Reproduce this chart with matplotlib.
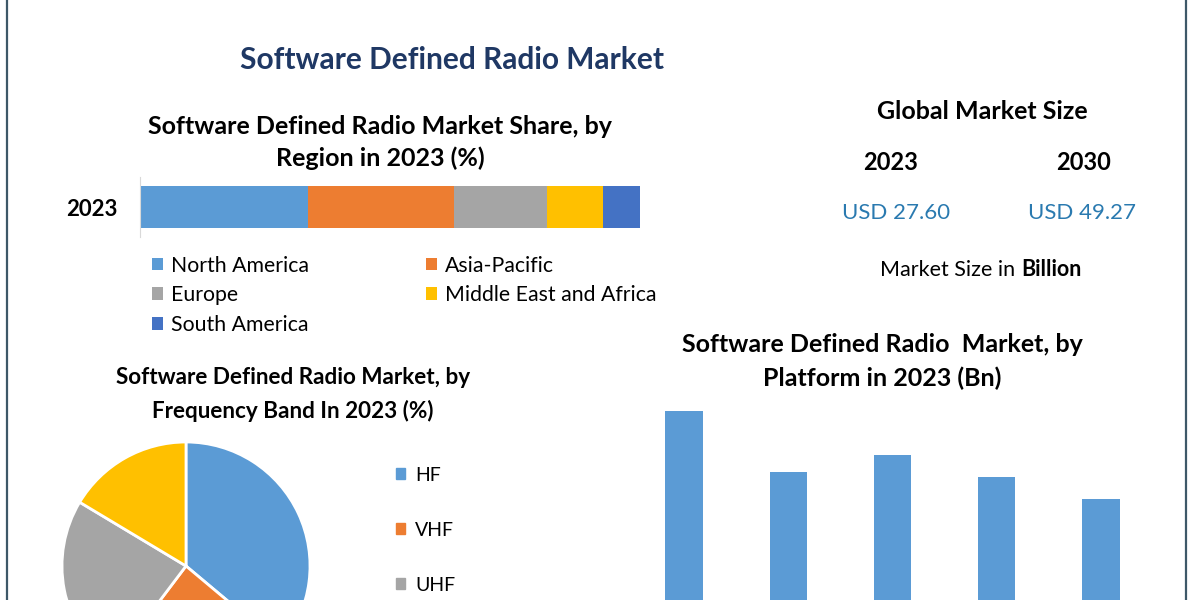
import matplotlib.pyplot as plt
from matplotlib.lines import Line2D
from matplotlib.patches import Patch

plt.rcParams['font.family'] = ['Lato', 'DejaVu Sans']

# region share 2023 (%)
regions = ['North America', 'Asia-Pacific', 'Europe', 'Middle East and Africa', 'South America']
region_share = [33.6, 29.2, 18.6, 11.2, 7.4]
region_colors = ['#5B9BD5', '#ED7D31', '#A5A5A5', '#FFC000', '#4472C4']

# frequency band 2023 (%)
bands = ['HF', 'VHF', 'UHF', 'Others']
band_share = [36.1, 24.2, 23.3, 16.4]
band_colors = ['#5B9BD5', '#ED7D31', '#A5A5A5', '#FFC000']

# platform 2023 (Bn)
platforms = ['Land', 'Airborne', 'Naval', 'Space', 'Others']
platform_vals = [6.73, 5.31, 5.70, 5.19, 4.68]

W, H = 1200, 600
fig = plt.figure(figsize=(12, 6), dpi=100)
fig.patch.set_facecolor('white')


def px(x, y):
    return x / W, 1 - y / H


def box(x0, y0, x1, y1):
    return [x0 / W, 1 - y1 / H, (x1 - x0) / W, (y1 - y0) / H]


def txt(x, y, s, **kw):
    kw.setdefault('ha', 'center')
    kw.setdefault('va', 'center')
    fig.text(*px(x, y), s, **kw)


# frame lines
for xx in (7, 1186):
    fig.add_artist(Line2D([xx / W, xx / W], [0, 1], color='#3E5868', lw=1.6))

txt(452, 60, 'Software Defined Radio Market', fontsize=21.5, fontweight='bold', color='#1F3864')

# stacked region bar
txt(380, 126, 'Software Defined Radio Market Share, by', fontsize=18, fontweight='bold')
txt(380, 158, 'Region in 2023 (%)', fontsize=18, fontweight='bold')
ax1 = fig.add_axes(box(140, 177, 640, 237))
bars = []
left = 0
for name, val, col in zip(regions, region_share, region_colors):
    bars.append(ax1.barh(0, val, left=left, height=0.7, color=col, label=name))
    left += val
ax1.set_xlim(0, sum(region_share))
ax1.set_ylim(-0.5, 0.5)
ax1.set_yticks([0])
ax1.set_yticklabels(['2023'], fontsize=16, fontweight='bold')
ax1.tick_params(axis='y', length=0, pad=16)
ax1.set_xticks([])
for sp in ['top', 'right', 'bottom']:
    ax1.spines[sp].set_visible(False)
ax1.spines['left'].set_color('#D9D9D9')
order = [0, 2, 4, 1, 3]
fig.legend([bars[i] for i in order], [regions[i] for i in order],
           loc='upper left', bbox_to_anchor=px(143, 247), ncol=2, frameon=False,
           fontsize=15.3, handlelength=0.55, handleheight=0.55, handletextpad=0.35,
           columnspacing=5.5, labelspacing=0.45, borderaxespad=0)

# global market size
txt(982, 111, 'Global Market Size', fontsize=18, fontweight='bold')
txt(891, 162, '2023', fontsize=17, fontweight='bold')
txt(1084, 162, '2030', fontsize=17, fontweight='bold')
txt(896, 213, 'USD 27.60', fontsize=16, color='#2A7AB0')
txt(1082, 213, 'USD 49.27', fontsize=16, color='#2A7AB0')
txt(1021, 270, 'Market Size in ', fontsize=15.5, ha='right')
txt(1021, 270, 'Billion', fontsize=15.5, ha='left', fontweight='bold')

# pie by frequency band
txt(293, 378, 'Software Defined Radio Market, by', fontsize=16.2, fontweight='bold')
txt(293, 411, 'Frequency Band In 2023 (%)', fontsize=16.2, fontweight='bold')
ax2 = fig.add_axes(box(62, 442, 310, 690))
ax2.pie(band_share, colors=band_colors, startangle=90, counterclock=False,
        wedgeprops=dict(edgecolor='white', linewidth=2))
ax2.set_xlim(-1, 1)
ax2.set_ylim(-1, 1)
ax2.set_aspect('equal')
handles = [Patch(color=c) for c in band_colors[:3]]
fig.legend(handles, bands[:3], loc='upper left', bbox_to_anchor=px(388, 459), frameon=False,
           fontsize=14, handlelength=0.5, handleheight=0.5, handletextpad=0.5,
           labelspacing=1.95, borderaxespad=0)

# platform bars
txt(882, 345, 'Software Defined Radio  Market, by', fontsize=18, fontweight='bold')
txt(882, 378, 'Platform in 2023 (Bn)', fontsize=18, fontweight='bold')
ax3 = fig.add_axes(box(632, 400, 1153, 700))
ax3.bar(range(len(platforms)), platform_vals, width=0.36, color='#5B9BD5')
ax3.set_xlim(-0.5, 4.5)
ax3.set_ylim(0, 6.98)
ax3.axis('off')

fig.savefig('out.png', dpi=100, facecolor='white')
